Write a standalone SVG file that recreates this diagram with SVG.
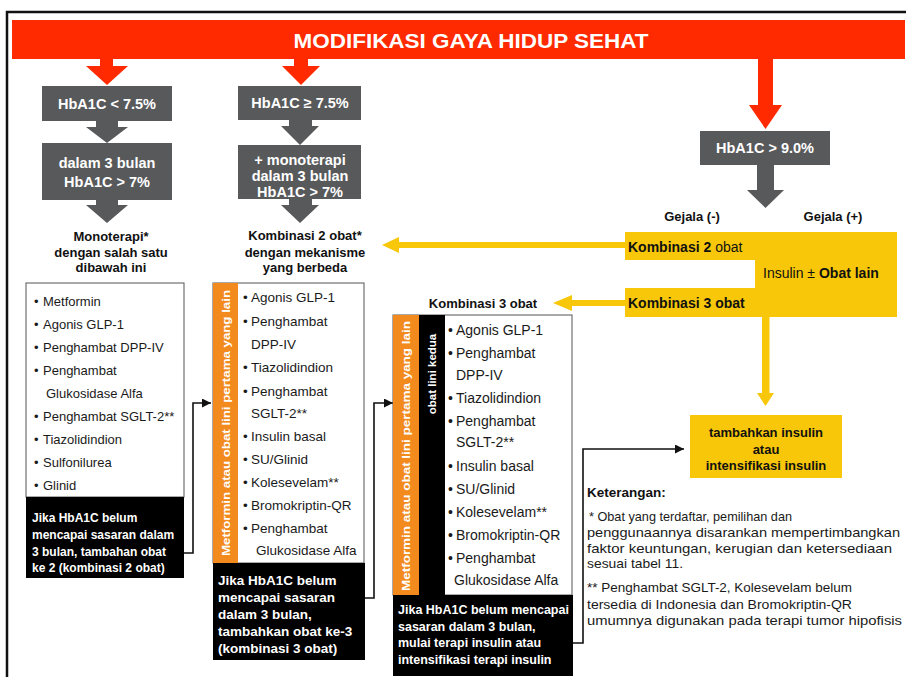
<svg xmlns="http://www.w3.org/2000/svg" width="906" height="677" viewBox="0 0 906 677">
<defs>
<style>
text{font-family:"Liberation Sans",Arial,sans-serif}
.red{fill:#FF2A00}
.gray{fill:#58595B}
.yel{fill:#F8C70A}
.org{fill:#F28A1E}
.blk{fill:#000}
.gt{font-weight:bold;fill:#fff;font-size:14.5px;text-anchor:middle}
.lbl{font-weight:bold;fill:#111;font-size:13px;text-anchor:middle}
.li{fill:#1a1a1a;font-size:13px}
.li2{fill:#1a1a1a;font-size:13.5px}
.li3{fill:#1a1a1a;font-size:14px}
.bt{font-weight:bold;fill:#fff;font-size:12px}
.bt2{font-weight:bold;fill:#fff;font-size:13.5px}
.bt3{font-weight:bold;fill:#fff;font-size:12.5px}
.vt{font-weight:bold;fill:#fff;font-size:11.5px;text-anchor:middle}
.yt{font-weight:bold;fill:#111;font-size:14px}
.note{fill:#1a1a1a;font-size:13px}
.conn{fill:none;stroke:#111;stroke-width:1.6}
.box{fill:#fff;stroke:#555;stroke-width:1}
</style>
<marker id="ah" viewBox="0 0 10 10" refX="10" refY="5" markerWidth="9" markerHeight="9" markerUnits="userSpaceOnUse" orient="auto">
<path d="M0,0 L10,5 L0,10 z" fill="#111"/>
</marker>
</defs>
<rect width="906" height="677" fill="#fff"/>
<!-- frame -->
<path d="M7,677 V12 H906" fill="none" stroke="#111" stroke-width="2.5"/>

<g id="banner">
<rect class="red" x="12" y="20" width="893" height="39"/>
<text x="471" y="48" font-size="21" font-weight="bold" fill="#fff" text-anchor="middle" textLength="355" lengthAdjust="spacingAndGlyphs">MODIFIKASI GAYA HIDUP SEHAT</text>
</g>

<g id="connectors">
<!-- red arrows -->
<rect class="red" x="100" y="58" width="13" height="9"/>
<polygon class="red" points="86,66 128,66 107,85"/>
<rect class="red" x="294" y="58" width="14" height="9"/>
<polygon class="red" points="282,66 320,66 301,85"/>
<rect class="red" x="758" y="58" width="15" height="48"/>
<polygon class="red" points="749,105 782,105 765.5,129"/>
<!-- gray arrows -->
<rect class="gray" x="96" y="120" width="22" height="8"/>
<polygon class="gray" points="86,127 128,127 107,143"/>
<rect class="gray" x="96" y="199" width="22" height="7"/>
<polygon class="gray" points="86,205 128,205 107,223"/>
<rect class="gray" x="289" y="119" width="23" height="8"/>
<polygon class="gray" points="281,126 319,126 300,145"/>
<rect class="gray" x="289" y="198" width="23" height="8"/>
<polygon class="gray" points="281,205 319,205 300,223"/>
<rect class="gray" x="757" y="164" width="17" height="27"/>
<polygon class="gray" points="747,190 784,190 765.5,208"/>
<!-- yellow arrows -->
<rect class="yel" x="396" y="242" width="230" height="6"/>
<polygon class="yel" points="382,245 399,237 399,253"/>
<rect class="yel" x="570" y="300" width="56" height="6"/>
<polygon class="yel" points="553,303 572,295 572,311"/>
<rect class="yel" x="762" y="316" width="7.5" height="78"/>
<polygon class="yel" points="757,393 774,393 765.5,406"/>
<!-- black connectors -->
<path class="conn" d="M184,553 H193 V403 H211" marker-end="url(#ah)"/>
<path class="conn" d="M365,598 H374 V403 H393" marker-end="url(#ah)"/>
<path class="conn" d="M573,643 H583 V449 H684" marker-end="url(#ah)"/>
</g>

<g id="hba1c-low">
<rect class="gray" x="42" y="86" width="130" height="35"/>
<text class="gt" x="107" y="109">HbA1C &lt; 7.5%</text>
</g>
<g id="low-3bulan">
<rect class="gray" x="42" y="143" width="130" height="57"/>
<text class="gt" x="107" y="168">dalam 3 bulan</text>
<text class="gt" x="107" y="187">HbA1C &gt; 7%</text>
</g>
<g id="monoterapi-label">
<text class="lbl" x="111" y="241">Monoterapi*</text>
<text class="lbl" x="111" y="257">dengan salah satu</text>
<text class="lbl" x="111" y="272">dibawah ini</text>
</g>
<g id="monoterapi-list">
<rect class="box" x="26" y="283" width="158" height="214"/>
<g class="li">
<text x="34" y="306">•</text><text x="43" y="306">Metformin</text>
<text x="34" y="329">•</text><text x="43" y="329">Agonis GLP-1</text>
<text x="34" y="352">•</text><text x="43" y="352">Penghambat DPP-IV</text>
<text x="34" y="375">•</text><text x="43" y="375">Penghambat</text>
<text x="46" y="398">Glukosidase Alfa</text>
<text x="34" y="421">•</text><text x="43" y="421">Penghambat SGLT-2**</text>
<text x="34" y="444">•</text><text x="43" y="444">Tiazolidindion</text>
<text x="34" y="467">•</text><text x="43" y="467">Sulfonilurea</text>
<text x="34" y="490">•</text><text x="43" y="490">Glinid</text>
</g>
<rect class="blk" x="26" y="497" width="158" height="81"/>
<g class="bt">
<text x="32" y="522">Jika HbA1C belum</text>
<text x="32" y="539">mencapai sasaran dalam</text>
<text x="32" y="556">3 bulan, tambahan obat</text>
<text x="32" y="572">ke 2 (kombinasi 2 obat)</text>
</g>
</g>

<g id="hba1c-mid">
<rect class="gray" x="238" y="86" width="123" height="34"/>
<text class="gt" x="300" y="108">HbA1C ≥ 7.5%</text>
</g>
<g id="mid-3bulan">
<rect class="gray" x="238" y="145" width="123" height="54"/>
<text class="gt" x="300" y="165">+ monoterapi</text>
<text class="gt" x="300" y="181">dalam 3 bulan</text>
<text class="gt" x="300" y="197">HbA1C &gt; 7%</text>
</g>
<g id="kombinasi2-label">
<text class="lbl" x="305" y="240" font-size="13.5">Kombinasi 2 obat*</text>
<text class="lbl" x="305" y="257" font-size="13.5">dengan mekanisme</text>
<text class="lbl" x="305" y="272" font-size="13.5">yang berbeda</text>
</g>
<g id="kombinasi2-list">
<rect class="box" x="213" y="283" width="151" height="280"/>
<rect class="org" x="213" y="283" width="25" height="280"/>
<text class="vt" font-size="12" textLength="266" lengthAdjust="spacingAndGlyphs" transform="translate(230,423) rotate(-90)">Metformin atau obat lini pertama yang lain</text>
<g class="li2">
<text x="243" y="302">•</text><text x="251" y="302">Agonis GLP-1</text>
<text x="243" y="326">•</text><text x="251" y="326">Penghambat</text>
<text x="251" y="349">DPP-IV</text>
<text x="243" y="372">•</text><text x="251" y="372">Tiazolidindion</text>
<text x="243" y="396">•</text><text x="251" y="396">Penghambat</text>
<text x="251" y="418">SGLT-2**</text>
<text x="243" y="441">•</text><text x="251" y="441">Insulin basal</text>
<text x="243" y="464">•</text><text x="251" y="464">SU/Glinid</text>
<text x="243" y="487">•</text><text x="251" y="487">Kolesevelam**</text>
<text x="243" y="510">•</text><text x="251" y="510">Bromokriptin-QR</text>
<text x="243" y="533">•</text><text x="251" y="533">Penghambat</text>
<text x="256" y="555">Glukosidase Alfa</text>
</g>
<rect class="blk" x="213" y="563" width="152" height="97"/>
<g class="bt2">
<text x="218" y="585">Jika HbA1C belum</text>
<text x="218" y="602">mencapai sasaran</text>
<text x="218" y="619">dalam 3 bulan,</text>
<text x="218" y="636">tambahkan obat ke-3</text>
<text x="218" y="653">(kombinasi 3 obat)</text>
</g>
</g>

<g id="kombinasi3-list">
<text class="lbl" x="483" y="308" font-size="14">Kombinasi 3 obat</text>
<rect class="box" x="393" y="315" width="179" height="280"/>
<rect class="org" x="393" y="315" width="26" height="280"/>
<rect class="blk" x="419" y="315" width="26" height="280"/>
<text class="vt" font-size="12" textLength="270" lengthAdjust="spacingAndGlyphs" transform="translate(410,456) rotate(-90)">Metformin atau obat lini pertama yang lain</text>
<text class="vt" font-size="12" transform="translate(436,374) rotate(-90)">obat lini kedua</text>
<g class="li3">
<text x="448" y="335">•</text><text x="456" y="335">Agonis GLP-1</text>
<text x="448" y="358">•</text><text x="456" y="358">Penghambat</text>
<text x="456" y="380">DPP-IV</text>
<text x="448" y="403">•</text><text x="456" y="403">Tiazolidindion</text>
<text x="448" y="426">•</text><text x="456" y="426">Penghambat</text>
<text x="456" y="447">SGLT-2**</text>
<text x="448" y="471">•</text><text x="456" y="471">Insulin basal</text>
<text x="448" y="494">•</text><text x="456" y="494">SU/Glinid</text>
<text x="448" y="517">•</text><text x="456" y="517">Kolesevelam**</text>
<text x="448" y="540">•</text><text x="456" y="540">Bromokriptin-QR</text>
<text x="448" y="563">•</text><text x="456" y="563">Penghambat</text>
<text x="454" y="585">Glukosidase Alfa</text>
</g>
<rect class="blk" x="393" y="595" width="180" height="81"/>
<g class="bt3">
<text x="398" y="614">Jika HbA1C belum mencapai</text>
<text x="398" y="631">sasaran dalam 3 bulan,</text>
<text x="398" y="647">mulai terapi insulin atau</text>
<text x="398" y="664">intensifikasi terapi insulin</text>
</g>
</g>

<g id="hba1c-high">
<rect class="gray" x="700" y="131" width="130" height="34"/>
<text class="gt" x="765" y="153">HbA1C &gt; 9.0%</text>
</g>
<g id="gejala">
<text class="lbl" x="692" y="221" font-size="12">Gejala (-)</text>
<text class="lbl" x="833" y="221" font-size="12">Gejala (+)</text>
</g>
<g id="yellow-options">
<path class="yel" d="M625,232 H897 V317 H625 V288 H755 V260 H625 Z"/>
<text class="yt" x="628" y="252">Kombinasi 2 <tspan font-weight="normal">obat</tspan></text>
<text class="yt" x="628" y="308">Kombinasi 3 obat</text>
<text class="yt" x="763" y="278"><tspan font-weight="normal">Insulin ±</tspan> Obat lain</text>
</g>
<g id="tambah-insulin">
<rect class="yel" x="690" y="415" width="152" height="63"/>
<text class="lbl" x="766" y="437">tambahkan insulin</text>
<text class="lbl" x="766" y="454">atau</text>
<text class="lbl" x="766" y="470">intensifikasi insulin</text>
</g>
<g id="keterangan">
<text x="587" y="497" font-size="13.5" font-weight="bold" fill="#111">Keterangan:</text>
<text class="note" x="589" y="521" textLength="203" lengthAdjust="spacingAndGlyphs">* Obat yang terdaftar, pemilihan dan</text>
<text class="note" x="587" y="537" textLength="313" lengthAdjust="spacingAndGlyphs">penggunaannya disarankan mempertimbangkan</text>
<text class="note" x="587" y="553" textLength="305" lengthAdjust="spacingAndGlyphs">faktor keuntungan, kerugian dan ketersediaan</text>
<text class="note" x="587" y="568" textLength="96" lengthAdjust="spacingAndGlyphs">sesuai tabel 11.</text>
<text class="note" x="587" y="592" textLength="265" lengthAdjust="spacingAndGlyphs">** Penghambat SGLT-2, Kolesevelam belum</text>
<text class="note" x="587" y="609" textLength="265" lengthAdjust="spacingAndGlyphs">tersedia di Indonesia dan Bromokriptin-QR</text>
<text class="note" x="587" y="625" textLength="315" lengthAdjust="spacingAndGlyphs">umumnya digunakan pada terapi tumor hipofisis</text>
</g>
</svg>
